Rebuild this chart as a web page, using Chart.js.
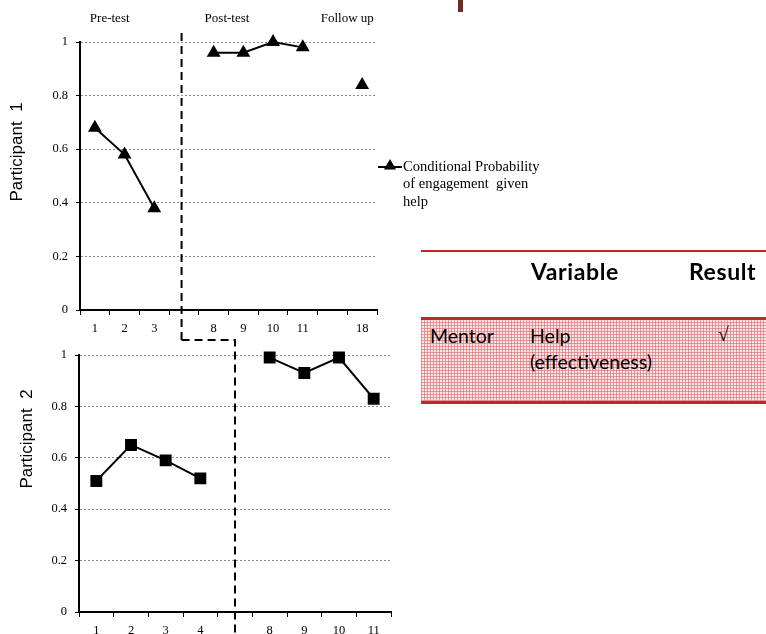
<!DOCTYPE html>
<html>
<head>
<meta charset="utf-8">
<script src="https://cdn.jsdelivr.net/npm/chart.js"></script>
<style>
body { margin:0; background:#fff; width:766px; height:634px; overflow:hidden; position:relative; font-family:Lato, sans-serif; }
#grafico1 { position:absolute; left:0; top:0; }
#grafico2 { position:absolute; left:0; top:330px; }
.barra { position:absolute; left:458px; top:0; width:5px; height:12px; background:#6e2c1c; }
.linea { position:absolute; left:421px; width:345px; background:#c0272d; }
.rayado { position:absolute; left:421px; top:320px; width:345px; height:81px; background-color:#fbe6e7;
  background-image:repeating-linear-gradient(0deg, rgba(220,100,106,0.6) 0 1px, transparent 1px 3px),
                   repeating-linear-gradient(90deg, rgba(220,100,106,0.6) 0 1px, transparent 1px 3px); }
.cab { position:absolute; top:257px; font-weight:bold; font-size:23px; letter-spacing:0.6px; color:#000; }
.txt { position:absolute; font-size:19.5px; color:#000; line-height:26px; }
</style>
</head>
<body>
<canvas id="grafico1" width="560" height="345"></canvas>
<canvas id="grafico2" width="400" height="304"></canvas>

<div class="barra"></div>
<div class="linea" style="top:250px;height:2px"></div>
<div class="cab" style="left:531px">Variable</div>
<div class="cab" style="left:689px">Result</div>
<div class="rayado"></div>
<div class="linea" style="top:317px;height:3px"></div>
<div class="linea" style="top:401px;height:3px"></div>
<div class="txt" style="left:430px;top:323px">Mentor</div>
<div class="txt" style="left:530px;top:323px">Help<br>(effectiveness)</div>
<div class="txt" style="left:718px;top:322px;font-family:'Liberation Serif'">√</div>

<script>
// participante 1
var etiquetas1 = ['1', '2', '3', '', '8', '9', '10', '11', '', '18'];
var datos1 = [0.68, 0.58, 0.38, null, 0.96, 0.96, 1.0, 0.98, null, 0.84];
// participante 2
var etiquetas2 = ['1', '2', '3', '4', '', '8', '9', '10', '11'];
var datos2 = [0.51, 0.65, 0.59, 0.52, null, 0.99, 0.93, 0.99, 0.83];

var marcasY = ['0', '0.2', '0.4', '0.6', '0.8', '1'];
var fases = ['Pre-test', 'Post-test', 'Follow up'];
var posFases = [0.5, 4.45, 8.5];
var leyenda = ['Conditional Probability', 'of engagement  given', 'help'];

var serif = '"Liberation Serif", "Times New Roman", serif';

function ejes(anchoY, altoX) {
    return {
        x: {
            offset: true,
            grid: { offset: true, drawOnChartArea: false, tickLength: 5, tickColor: '#000', tickWidth: 1 },
            border: { color: '#000', width: 2 },
            ticks: { color: '#000', font: { family: serif, size: 12.5 }, padding: 6, maxRotation: 0, autoSkip: false },
            afterFit: function (s) { s.height = altoX; }
        },
        y: {
            min: 0, max: 1,
            grid: {
                color: function (c) { return c.tick && c.tick.value === 0 ? 'rgba(0,0,0,0)' : '#8a8a8a'; },
                tickColor: '#000', tickLength: 4, lineWidth: 1
            },
            border: { color: '#000', width: 2, dash: [2, 2] },
            ticks: {
                stepSize: 0.2, color: '#000', font: { family: serif, size: 12.5 }, padding: 8,
                callback: function (v, i) { return marcasY[i]; }
            },
            afterFit: function (s) { s.width = anchoY; }
        }
    };
}

function textoVertical(ctx, texto, x, y) {
    ctx.save();
    ctx.translate(x, y);
    ctx.rotate(-Math.PI / 2);
    ctx.font = '17px "Liberation Sans", Arial, sans-serif';
    ctx.fillStyle = '#000';
    ctx.textAlign = 'center';
    ctx.textBaseline = 'middle';
    ctx.fillText(texto, 0, 0);
    ctx.restore();
}

let myChart1;
let myChart2;

var extras1 = {
    id: 'extras1',
    afterDraw: function (chart) {
        var ctx = chart.ctx;
        var x = chart.scales.x;
        ctx.save();
        ctx.font = '13px ' + serif;
        ctx.fillStyle = '#000';
        ctx.textAlign = 'center';
        ctx.textBaseline = 'middle';
        fases.forEach(function (t, i) { ctx.fillText(t, x.getPixelForValue(posFases[i]), 19); });

        var px = x.getPixelForValue(2.92);
        ctx.strokeStyle = '#000';
        ctx.lineWidth = 2;
        ctx.setLineDash([8, 5]);
        ctx.beginPath();
        ctx.moveTo(px, 33);
        ctx.lineTo(px, 341);
        ctx.stroke();
        ctx.setLineDash([]);

        // leyenda
        ctx.beginPath();
        ctx.moveTo(378, 167);
        ctx.lineTo(402, 167);
        ctx.stroke();
        Chart.helpers.drawPoint(ctx, { pointStyle: 'triangle', radius: 5, rotation: 0, borderWidth: 1 }, 390, 166);
        ctx.fill();
        ctx.font = '14.5px ' + serif;
        ctx.textAlign = 'left';
        leyenda.forEach(function (t, i) { ctx.fillText(t, 403, 167 + i * 17.5); });
        ctx.restore();

        textoVertical(ctx, 'Participant  1', 17, 152);
    }
};

var extras2 = {
    id: 'extras2',
    afterDraw: function (chart) {
        var ctx = chart.ctx;
        var x = chart.scales.x;
        var px = x.getPixelForValue(4);
        var pxArriba = myChart1.scales.x.getPixelForValue(2.92);
        ctx.save();
        ctx.strokeStyle = '#000';
        ctx.lineWidth = 2;
        ctx.setLineDash([8, 5]);
        ctx.beginPath();
        ctx.moveTo(pxArriba, 10);
        ctx.lineTo(px, 10);
        ctx.lineTo(px, 304);
        ctx.stroke();
        ctx.restore();
        textoVertical(ctx, 'Participant  2', 27, 109);
    }
};

function serie(datos, estilo, radio) {
    return {
        label: 'Conditional Probability of engagement given help',
        data: datos,
        borderColor: '#000',
        backgroundColor: '#000',
        borderWidth: 2,
        pointStyle: estilo,
        pointRadius: radio,
        pointBackgroundColor: '#000',
        pointBorderColor: '#000',
        spanGaps: false,
        tension: 0,
        clip: false
    };
}

function opciones(anchoY, altoX, padding) {
    return {
        responsive: false,
        animation: false,
        layout: { padding: padding },
        plugins: { legend: { display: false }, tooltip: { enabled: false } },
        scales: ejes(anchoY, altoX)
    };
}

myChart1 = new Chart(document.getElementById('grafico1'), {
    type: 'line',
    data: { labels: etiquetas1, datasets: [serie(datos1, 'triangle', 6)] },
    options: opciones(80, 30, { top: 42, right: 183, bottom: 5, left: 0 }),
    plugins: [extras1]
});

myChart2 = new Chart(document.getElementById('grafico2'), {
    type: 'line',
    data: { labels: etiquetas2, datasets: [serie(datos2, 'rect', 7)] },
    options: opciones(79, 22, { top: 25, right: 9, bottom: 0, left: 0 }),
    plugins: [extras2]
});
</script>
</body>
</html>
